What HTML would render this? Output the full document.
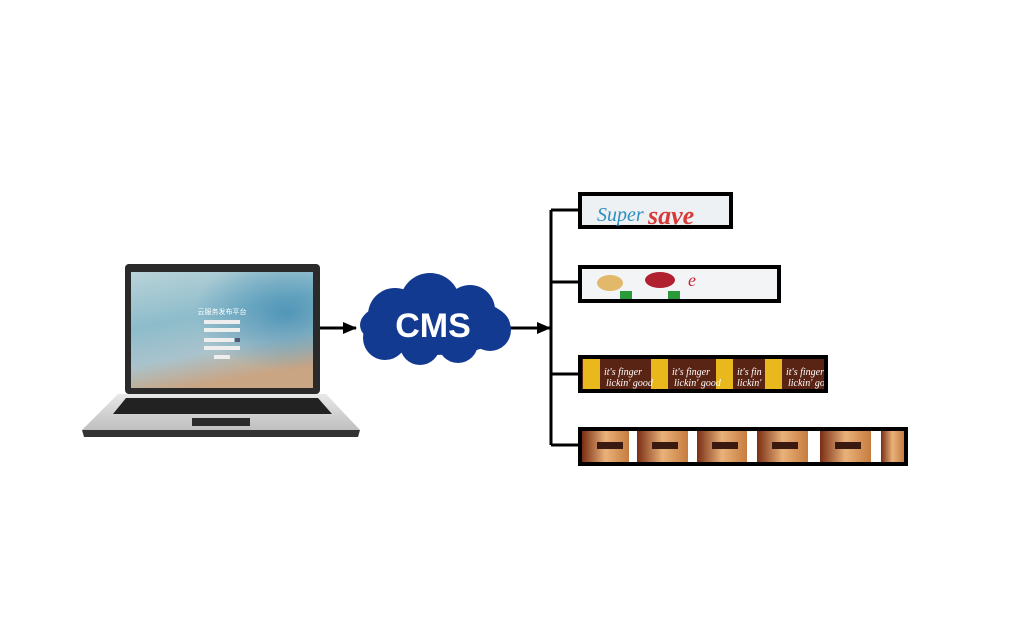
<!DOCTYPE html>
<html><head><meta charset="utf-8"><style>
html,body{margin:0;padding:0;background:#fff;width:1024px;height:640px;overflow:hidden}
</style></head><body>
<svg width="1024" height="640" viewBox="0 0 1024 640" xmlns="http://www.w3.org/2000/svg">
<defs>
<linearGradient id="scr" x1="0" y1="0" x2="0.3" y2="1">
<stop offset="0" stop-color="#b9d3d8"/><stop offset="0.45" stop-color="#8dbccb"/><stop offset="0.75" stop-color="#a9c3cc"/><stop offset="1" stop-color="#c9a584"/>
</linearGradient>
<radialGradient id="scr2" cx="0.85" cy="0.35" r="0.5"><stop offset="0" stop-color="#3f8cb3" stop-opacity="0.8"/><stop offset="1" stop-color="#3f8cb3" stop-opacity="0"/></radialGradient>
<linearGradient id="base" x1="0" y1="0" x2="0" y2="1"><stop offset="0" stop-color="#e8e8e8"/><stop offset="1" stop-color="#bfbfbf"/></linearGradient>
<linearGradient id="choc" x1="0" y1="0" x2="1" y2="0"><stop offset="0" stop-color="#7a2e14"/><stop offset="0.5" stop-color="#e9b27a"/><stop offset="1" stop-color="#c77c3f"/></linearGradient>
<clipPath id="c3"><rect x="582" y="359" width="242" height="30"/></clipPath>
</defs>
<!-- laptop -->
<rect x="125" y="264" width="195" height="130" rx="4" fill="#2a2a2a"/>
<rect x="131" y="272" width="182" height="116" fill="url(#scr)"/>
<rect x="131" y="272" width="182" height="116" fill="url(#scr2)"/>
<text x="222" y="314" font-family="Liberation Sans,'Noto Sans CJK SC',sans-serif" font-size="7" fill="#fff" text-anchor="middle">云服务发布平台</text>
<rect x="204" y="320" width="36" height="4" fill="#eee"/><rect x="204" y="328" width="36" height="4" fill="#eee"/>
<rect x="204" y="338" width="30" height="4" fill="#eee"/><rect x="235" y="338" width="5" height="4" fill="#557"/>
<rect x="204" y="346" width="36" height="4" fill="#eee"/><rect x="214" y="355" width="16" height="4" fill="#eee"/>
<path d="M118 394 L326 394 L360 430 L82 430 Z" fill="url(#base)"/>
<path d="M82 430 L360 430 L358 437 L84 437 Z" fill="#333"/>
<path d="M126 398 L318 398 L332 414 L113 414 Z" fill="#222"/>
<rect x="192" y="418" width="58" height="8" fill="#2a2a2a"/>
<!-- arrows -->
<line x1="320" y1="328" x2="356" y2="328" stroke="#000" stroke-width="3"/>
<path d="M343 322 L357 328 L343 334 Z" fill="#000"/>
<line x1="510" y1="328" x2="551" y2="328" stroke="#000" stroke-width="3"/>
<path d="M537 322 L551 328 L537 334 Z" fill="#000"/>
<!-- cloud -->
<g fill="#123a90">
<ellipse cx="435" cy="325" rx="75" ry="30"/>
<circle cx="395" cy="315" r="27"/><circle cx="430" cy="303" r="30"/><circle cx="470" cy="310" r="25"/>
<circle cx="385" cy="338" r="22"/><circle cx="420" cy="345" r="20"/><circle cx="458" cy="343" r="20"/><circle cx="490" cy="330" r="21"/>
</g>
<text x="433" y="337" font-family="Liberation Sans,sans-serif" font-weight="bold" font-size="34" fill="#fff" text-anchor="middle">CMS</text>
<!-- tree -->
<path d="M551 210 V445 M551 210 H578 M551 282 H578 M551 374 H578 M551 445 H578" stroke="#000" stroke-width="3" fill="none"/>
<!-- box1 -->
<rect x="578" y="192" width="155" height="37" fill="#000"/>
<rect x="582" y="196" width="147" height="29" fill="#eef1f3"/>
<text x="597" y="221" font-family="Liberation Serif,serif" font-style="italic" font-size="20" fill="#2f8ec0">Super</text>
<text x="648" y="224" font-family="Liberation Serif,serif" font-style="italic" font-weight="bold" font-size="26" fill="#d83a3a">save</text>
<!-- box2 -->
<rect x="578" y="265" width="203" height="38" fill="#000"/>
<rect x="582" y="269" width="195" height="30" fill="#f2f4f6"/>
<ellipse cx="610" cy="283" rx="13" ry="8" fill="#e2b86a"/>
<ellipse cx="660" cy="280" rx="15" ry="8" fill="#b02030"/>
<rect x="620" y="291" width="12" height="8" fill="#2a9a3a"/><rect x="668" y="291" width="12" height="8" fill="#2a9a3a"/>
<text x="688" y="286" font-family="Liberation Serif,serif" font-style="italic" font-size="18" fill="#c8283a">e</text>
<!-- box3 -->
<rect x="578" y="355" width="250" height="38" fill="#000"/>
<rect x="582" y="359" width="242" height="30" fill="#5a2414"/>
<g fill="#e8b81c"><rect x="583" y="359" width="17" height="30"/><rect x="651" y="359" width="17" height="30"/><rect x="716" y="359" width="17" height="30"/><rect x="765" y="359" width="17" height="30"/></g>
<g clip-path="url(#c3)" font-family="Liberation Serif,serif" font-style="italic" font-size="10" fill="#fff">
<text x="604" y="375">it's finger</text><text x="672" y="375">it's finger</text><text x="737" y="375">it's fin</text><text x="786" y="375">it's finger</text>
<text x="606" y="386">lickin' good</text><text x="674" y="386">lickin' good</text><text x="737" y="386">lickin'</text><text x="788" y="386">lickin' good</text></g>
<!-- box4 -->
<rect x="578" y="427" width="330" height="39" fill="#000"/>
<rect x="582" y="431" width="322" height="31" fill="#fff"/>
<g fill="url(#choc)"><rect x="582" y="431" width="47" height="31"/><rect x="637" y="431" width="51" height="31"/><rect x="697" y="431" width="50" height="31"/><rect x="757" y="431" width="51" height="31"/><rect x="820" y="431" width="51" height="31"/><rect x="881" y="431" width="23" height="31"/></g>
<g fill="#3a1a10"><rect x="597" y="442" width="26" height="7"/><rect x="652" y="442" width="26" height="7"/><rect x="712" y="442" width="26" height="7"/><rect x="772" y="442" width="26" height="7"/><rect x="835" y="442" width="26" height="7"/></g>
</svg>
</body></html>
